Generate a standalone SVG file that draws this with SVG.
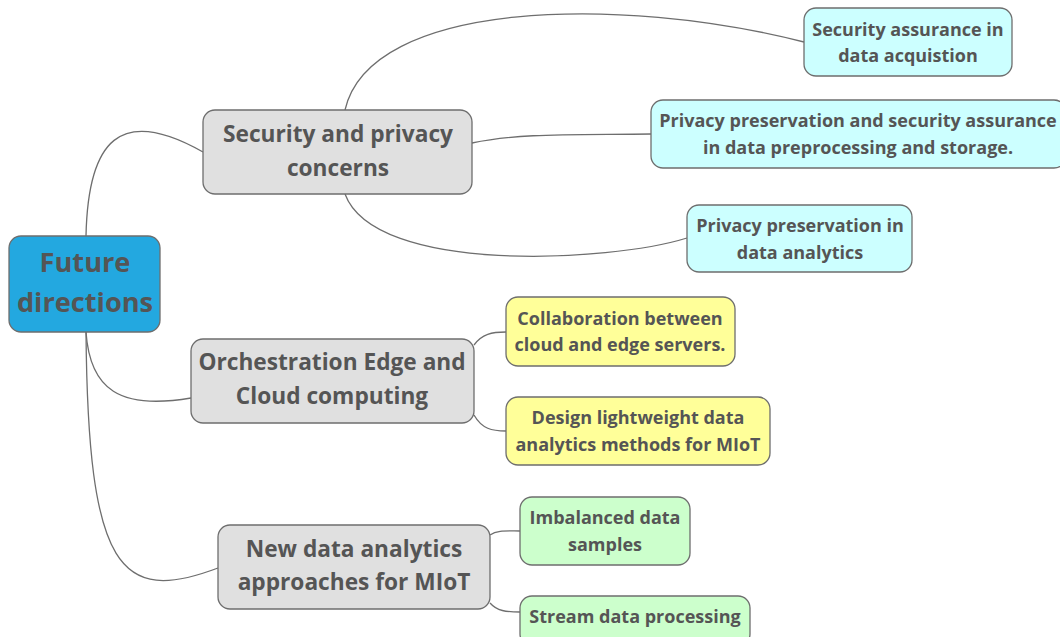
<svg xmlns="http://www.w3.org/2000/svg" width="1060" height="637" viewBox="0 0 1060 637">
<style>
.n rect{stroke:#6e6e6e;stroke-width:1.3}
text{font-family:"Open Sans","Noto Sans","DejaVu Sans",sans-serif;font-weight:bold;fill:#555;text-anchor:middle}
.t0{font-size:27.2px}
.t1{font-size:22.7px}
.t2{font-size:18px}
.c path{fill:none;stroke:#6e6e6e;stroke-width:1.3}
.root{fill:#23a8e0}
.gray{fill:#e0e0e0}
.cyan{fill:#ccffff}
.yel{fill:#ffff99}
.grn{fill:#ccffcc}
</style>
<rect width="1060" height="637" fill="#fff"/>
<g class="c" id="connectors">
<path d="M86,236 C88,140 120,105 203,152"/>
<path d="M86,332 C90,390 120,410 191,398"/>
<path d="M86,332 C88,570 120,605 218,568"/>
<path d="M345,110 C370,0 620,-5 804,42"/>
<path d="M472,143 C520,133 570,135 651,134"/>
<path d="M345,194 C375,275 610,262 687,238"/>
<path d="M474,345 C482,334 492,332 506,332"/>
<path d="M474,415 C482,429 492,431 506,431"/>
<path d="M490,535 C497,530 506,531 520,531"/>
<path d="M490,603 C497,611 506,612 520,612"/>
</g>
<g class="n" id="root"><rect class="root" x="9" y="236" width="151" height="96" rx="12"/><text class="t0" x="85" y="272">Future</text><text class="t0" x="85" y="312">directions</text></g>
<g class="n" id="security"><rect class="gray" x="203" y="110" width="269" height="84" rx="12"/><text class="t1" x="338" y="142">Security and privacy</text><text class="t1" x="338" y="176">concerns</text></g>
<g class="n" id="orchestration"><rect class="gray" x="191" y="339" width="283" height="84" rx="12"/><text class="t1" x="332" y="370">Orchestration Edge and</text><text class="t1" x="332" y="404">Cloud computing</text></g>
<g class="n" id="newdata"><rect class="gray" x="218" y="525" width="272" height="84" rx="12"/><text class="t1" x="354" y="557">New data analytics</text><text class="t1" x="354" y="590">approaches for MIoT</text></g>
<g class="n" id="sec1"><rect class="cyan" x="804" y="8" width="208" height="68" rx="12"/><text class="t2" x="908" y="36">Security assurance in</text><text class="t2" x="908" y="62">data acquistion</text></g>
<g class="n" id="sec2"><rect class="cyan" x="651" y="100" width="415" height="68" rx="12"/><text class="t2" x="858" y="127">Privacy preservation and security assurance</text><text class="t2" x="858" y="154">in data preprocessing and storage.</text></g>
<g class="n" id="sec3"><rect class="cyan" x="687" y="205" width="225" height="67" rx="12"/><text class="t2" x="800" y="232">Privacy preservation in</text><text class="t2" x="800" y="259">data analytics</text></g>
<g class="n" id="orch1"><rect class="yel" x="506" y="297" width="229" height="69" rx="12"/><text class="t2" x="620" y="325">Collaboration between</text><text class="t2" x="620" y="351">cloud and edge servers.</text></g>
<g class="n" id="orch2"><rect class="yel" x="506" y="397" width="264" height="68" rx="12"/><text class="t2" x="638" y="424">Design lightweight data</text><text class="t2" x="638" y="451">analytics methods for MIoT</text></g>
<g class="n" id="new1"><rect class="grn" x="520" y="497" width="170" height="68" rx="12"/><text class="t2" x="605" y="524">Imbalanced data</text><text class="t2" x="605" y="551">samples</text></g>
<g class="n" id="new2"><rect class="grn" x="520" y="596" width="230" height="50" rx="12"/><text class="t2" x="635" y="623">Stream data processing</text></g>
</svg>
